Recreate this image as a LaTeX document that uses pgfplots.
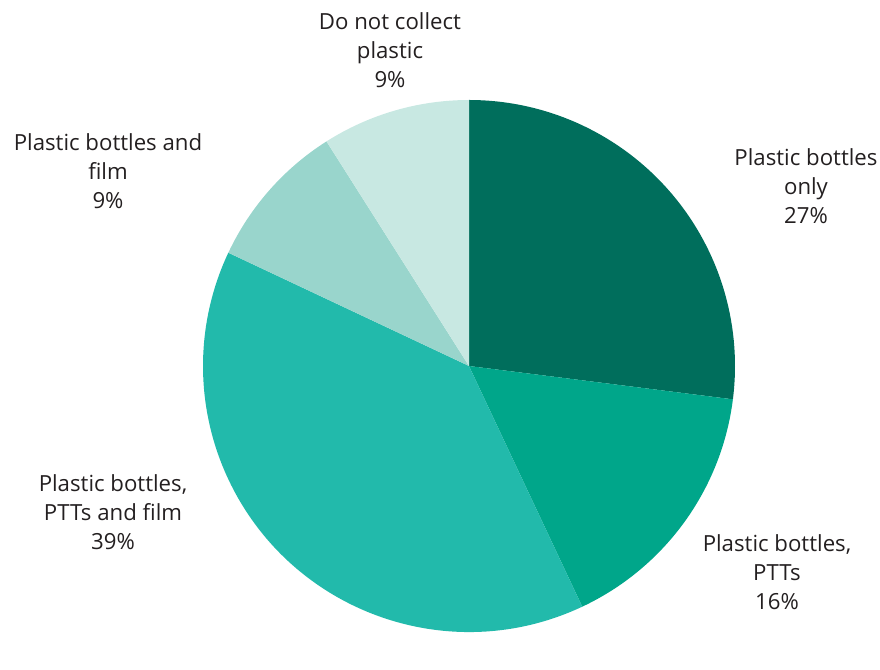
\documentclass[border=0pt]{standalone}
\usepackage{pgfplots}
\pgfplotsset{compat=1.18}
\usepackage{pgfplotstable}
\usepackage{fontspec}
\setmainfont{Open Sans}
\definecolor{pc0}{HTML}{006E5C}
\definecolor{pc1}{HTML}{00A68A}
\definecolor{pc2}{HTML}{22BAAB}
\definecolor{pc3}{HTML}{99D5CC}
\definecolor{pc4}{HTML}{C8E8E2}
\definecolor{txt}{HTML}{231F20}
\pgfplotstableread[col sep=comma]{
label,value
Plastic bottles only,27
Plastic bottles PTTs,16
Plastic bottles PTTs and film,39
Plastic bottles and film,9
Do not collect plastic,9
}\piedata
\begin{document}
\begin{tikzpicture}
\def\cumul{90}
\pgfplotsforeachungrouped \i in {0,...,4}{%
  \pgfplotstablegetelem{\i}{value}\of\piedata
  \pgfmathsetmacro\endang{\cumul - 3.6*\pgfplotsretval}%
  \expandafter\xdef\csname sa\i\endcsname{\cumul}%
  \expandafter\xdef\csname ea\i\endcsname{\endang}%
  \xdef\cumul{\endang}%
}
\begin{axis}[
  x=1pt, y=1pt, xmin=0, xmax=880, ymin=0, ymax=630,
  hide axis, scale only axis, clip=false,
]
\path (axis cs:0,0) rectangle (axis cs:880,630);
\pgfplotsinvokeforeach{0,...,4}{
  \fill[pc#1] (axis cs:469,264) -- ++(\csname sa#1\endcsname:266pt)
    arc[start angle=\csname sa#1\endcsname, end angle=\csname ea#1\endcsname, radius=266pt] -- cycle;
}
\tikzset{lbl/.style={align=center, text=txt, font=\fontsize{22.2}{29}\selectfont, inner sep=0pt}}
\node[lbl] at (axis cs:390,580) {Do not collect\\plastic\\9\%};
\node[lbl] at (axis cs:806,444) {Plastic bottles\\only\\27\%};
\node[lbl] at (axis cs:108,459) {Plastic bottles and\\film\\9\%};
\node[lbl] at (axis cs:113,118) {Plastic bottles,\\PTTs and film\\39\%};
\node[lbl] at (axis cs:777,58) {Plastic bottles,\\PTTs\\16\%};
\end{axis}
\end{tikzpicture}
\end{document}
